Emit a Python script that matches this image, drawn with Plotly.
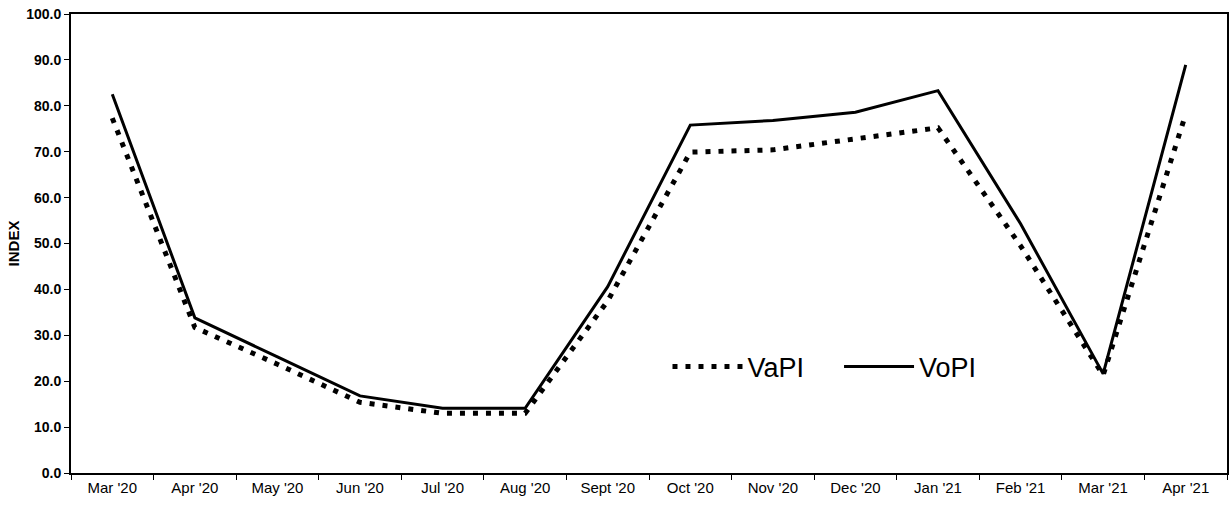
import plotly.graph_objects as go

months = ["Mar '20", "Apr '20", "May '20", "Jun '20", "Jul '20", "Aug '20", "Sept '20",
          "Oct '20", "Nov '20", "Dec '20", "Jan '21", "Feb '21", "Mar '21", "Apr '21"]
vapi = [77.3, 31.7, 23.7, 15.4, 13.0, 13.0, 37.5, 69.9, 70.4, 72.8, 75.2, 49.5, 21.3, 78.2]
vopi = [82.5, 33.8, 25.3, 16.8, 14.1, 14.1, 40.6, 75.8, 76.8, 78.6, 83.3, 54.3, 21.6, 88.9]
y_ticks = [0, 10, 20, 30, 40, 50, 60, 70, 80, 90, 100]

fig = go.Figure()
fig.add_trace(go.Scatter(x=months, y=vapi, name="VaPI\u00a0\u00a0\u00a0\u00a0", mode="lines",
                         line=dict(color="black", width=5, dash="5px,8px")))
fig.add_trace(go.Scatter(x=months, y=vopi, name="VoPI", mode="lines",
                         line=dict(color="black", width=3)))

fig.update_layout(
    width=1229, height=507,
    margin=dict(l=71, r=2, t=14, b=34, autoexpand=False),
    paper_bgcolor="white", plot_bgcolor="white",
    font=dict(family="Arial, Liberation Sans, sans-serif", color="black"),
    showlegend=True,
    legend=dict(orientation="h", x=0.516, y=0.231, xanchor="left", yanchor="middle",
                font=dict(size=27, color="black"), bgcolor="rgba(0,0,0,0)",
                itemwidth=70, tracegroupgap=0),
)
fig.update_xaxes(
    type="category", showline=True, linecolor="black", linewidth=2, mirror=True,
    ticks="outside", ticklen=5, tickcolor="black", tickwidth=1,
    tickson="boundaries", showgrid=False, zeroline=False,
    tickfont=dict(size=15, color="black"),
    range=[-0.5, 13.5],
)
fig.update_yaxes(
    range=[0, 100], tickvals=y_ticks, ticktext=[f"<b>{v:.1f}</b>" for v in y_ticks],
    showline=True, linecolor="black", linewidth=2, mirror=True,
    ticks="outside", ticklen=5, tickcolor="black", tickwidth=1,
    showgrid=False, zeroline=False, ticklabeloverflow="allow",
    tickfont=dict(size=14, color="black"),
    title=dict(text="<b>INDEX</b>", font=dict(size=15, color="black"), standoff=3),
)

fig.write_html("out.html", config={"displayModeBar": False},
               post_script="document.body.style.margin='0';document.body.style.overflow='hidden';")
